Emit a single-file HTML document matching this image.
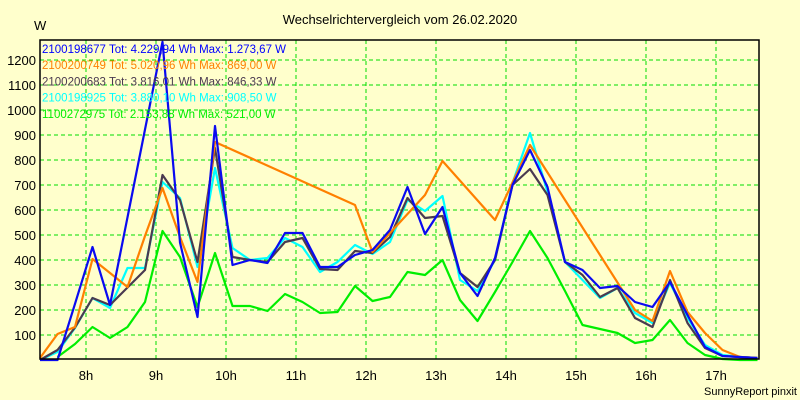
<!DOCTYPE html>
<html><head><meta charset="utf-8"><style>
body{margin:0;background:#ffffcc;}
svg{display:block;font-family:"Liberation Sans",sans-serif;}
</style></head><body>
<svg id="chart" width="800" height="400">
<rect x="0" y="0" width="800" height="400" fill="#ffffcc"/>
<text x="400" y="24" text-anchor="middle" font-size="13" fill="#000">Wechselrichtervergleich vom 26.02.2020</text>
<text x="34" y="30" font-size="13" fill="#000">W</text>
<text x="797" y="395" text-anchor="end" font-size="11" fill="#000">SunnyReport pinxit</text>
<g id="grid"></g><g id="series"></g><g id="axes"></g><g id="legend"></g>
</svg>
<script>
const hourTicks=[8,9,10,11,12,13,14,15,16,17];
const valueTicks=[100,200,300,400,500,600,700,800,900,1000,1100,1200];
const startHour=7.343, stepHour=0.25;
const seriesNames=["2100198677 Tot: 4.229,94 Wh Max: 1.273,67 W","2100200749 Tot: 5.020,96 Wh Max: 869,00 W","2100200683 Tot: 3.816,01 Wh Max: 846,33 W","2100198925 Tot: 3.880,10 Wh Max: 908,50 W","1100272975 Tot: 2.153,88 Wh Max: 521,00 W"];
const seriesColors=["#0a0af0","#ff8000","#4a3a50","#00ffff","#00ee00"];
const blue=[0,0,225,452,220,571,922,1273,470,172,936,380,400,388,508,508,372,372,420,440,520,692,504,612,348,256,408,700,840,692,392,360,288,296,232,212,312,180,52,16,12,8];
const orange=[8,104,132,404,348,292,496,688,492,312,872,null,null,null,null,null,null,null,620,432,null,null,660,796,null,null,560,null,860,null,null,null,null,null,200,156,356,192,108,40,12,8];
const dark=[0,40,130,248,220,290,360,740,640,392,848,412,400,392,472,488,364,360,436,428,492,648,568,576,348,292,400,700,764,660,392,340,252,288,168,132,320,148,48,16,12,8];
const cyan=[0,32,128,248,208,368,368,712,648,372,768,448,400,408,488,452,352,392,460,424,472,640,596,656,320,276,400,708,908,672,392,320,248,288,188,148,308,168,60,20,12,8];
const green=[null,12,64,132,88,132,232,516,412,212,428,216,216,196,264,232,188,192,296,236,252,352,340,400,240,156,272,392,516,408,276,140,124,108,68,80,160,68,20,4,0,0];
const allSeries=[blue,orange,dark,cyan,green];
const L=40,R=759,T=40,B=359;
const xs=t=>576+(t-15)*70;
const ys=v=>360-v*0.25;
const NS="http://www.w3.org/2000/svg";
function mk(tag,attrs,parent){const e=document.createElementNS(NS,tag);for(const k in attrs)e.setAttribute(k,attrs[k]);parent.appendChild(e);return e;}
const grid=document.getElementById('grid'),axes=document.getElementById('axes'),ser=document.getElementById('series'),leg=document.getElementById('legend');
valueTicks.forEach(v=>{
 const l=mk('line',{x1:L,x2:R,y1:ys(v),y2:ys(v),stroke:'#00dd00','stroke-dasharray':'4,3','stroke-width':1},grid);
 
 
 const t=mk('text',{x:36,y:ys(v)+5,'text-anchor':'end','font-size':13,fill:'#000'},axes);
 t.textContent=v;
 
 
});
hourTicks.forEach(h=>{
 const l=mk('line',{x1:xs(h),x2:xs(h),y1:T,y2:B,stroke:'#00dd00','stroke-dasharray':'4,3','stroke-width':1},grid);
 
 
 const t=mk('text',{x:xs(h),y:380,'text-anchor':'middle','font-size':13,fill:'#000'},axes);
 t.textContent=h+'h';
 
 
});
const box=mk('rect',{x:L,y:T,width:R-L,height:B-T,fill:'none',stroke:'#000','stroke-width':1.5},axes);


[4,3,2,1,0].forEach(i=>{
 const pts=[];
 allSeries[i].forEach((v,k)=>{if(v!==null)pts.push(xs(startHour+k*stepHour).toFixed(1)+','+ys(v).toFixed(1));});
 const p=mk('polyline',{points:pts.join(' '),fill:'none',stroke:seriesColors[i],'stroke-width':2.2,'stroke-linejoin':'round'},ser);
 
 
});
seriesNames.forEach((n,i)=>{
 const t=mk('text',{x:42,y:53+i*16.2,'font-size':11.5,fill:seriesColors[i]==='#0a0af0'?'#0000ff':seriesColors[i]},leg);
 t.textContent=n;
 
 
});
</script>
</body></html>
